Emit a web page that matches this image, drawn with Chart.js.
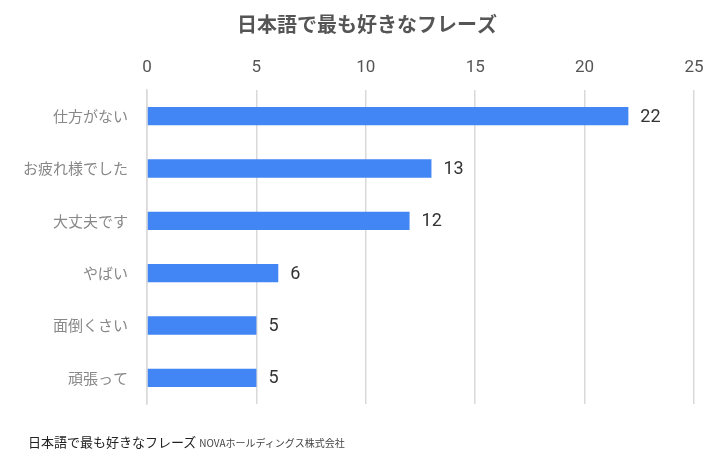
<!DOCTYPE html>
<html>
<head>
<meta charset="utf-8">
<script src="https://cdn.jsdelivr.net/npm/chart.js@4"></script>
<style>
  body { margin: 0; background: #fff; }
  #wrap { position: relative; width: 720px; height: 462px; }
  #caption {
    position: absolute; left: 28px; top: 432px;
    font-family: "Noto Sans CJK JP", sans-serif; color: #222;
    font-size: 13px; white-space: nowrap;
  }
  #caption small { font-size: 10px; color: #444; }
</style>
</head>
<body>
<div id="wrap">
  <canvas id="phraseChart" width="720" height="462"></canvas>
  <div id="caption">日本語で最も好きなフレーズ <small>NOVAホールディングス株式会社</small></div>
</div>
<script>
const chartTitle = '日本語で最も好きなフレーズ';
const phrases = ['仕方がない', 'お疲れ様でした', '大丈夫です', 'やばい', '面倒くさい', '頑張って'];
const votes = [22, 13, 12, 6, 5, 5];
const axisMax = 25;
const axisStep = 5;

// values printed next to each bar
const valueLabels = {
    id: 'valueLabels',
    afterDatasetsDraw(chart) {
        const ctx = chart.ctx;
        const meta = chart.getDatasetMeta(0);
        ctx.save();
        ctx.font = '18px Roboto, "Liberation Sans", sans-serif';
        ctx.fillStyle = '#333';
        ctx.textBaseline = 'middle';
        meta.data.forEach((bar, i) => {
            ctx.fillText(votes[i], bar.x + 12, bar.y + 1);
        });
        ctx.restore();
    }
};

// chart title drawn at the top
const topTitle = {
    id: 'topTitle',
    afterDraw(chart) {
        const ctx = chart.ctx;
        ctx.save();
        ctx.font = 'bold 20px "Noto Sans CJK JP", sans-serif';
        ctx.fillStyle = '#555';
        ctx.textAlign = 'center';
        ctx.textBaseline = 'middle';
        ctx.fillText(chartTitle, 367, 24);
        ctx.restore();
    }
};

new Chart(document.getElementById('phraseChart'), {
    type: 'bar',
    data: {
        labels: phrases,
        datasets: [{
            data: votes,
            backgroundColor: '#4285f4',
            categoryPercentage: 0.35,
            barPercentage: 1
        }]
    },
    options: {
        indexAxis: 'y',
        responsive: false,
        animation: false,
        layout: { padding: { top: 58, right: 26, bottom: 58, left: 0 } },
        plugins: {
            legend: { display: false },
            tooltip: { enabled: false }
        },
        scales: {
            x: {
                position: 'top',
                min: 0,
                max: axisMax,
                ticks: {
                    stepSize: axisStep,
                    padding: 12,
                    color: '#555',
                    font: { family: 'Roboto, "Liberation Sans", sans-serif', size: 17 }
                },
                grid: { color: '#d9d9d9', lineWidth: 1.5, drawTicks: false },
                border: { display: false },
                afterFit(scale) { scale.height = 32; }
            },
            y: {
                ticks: {
                    padding: 19,
                    color: '#888',
                    font: { family: '"Noto Sans CJK JP", sans-serif', size: 15 }
                },
                grid: { display: false, drawTicks: false },
                border: { color: '#d9d9d9', width: 1.5 },
                afterFit(scale) { scale.width = 147; }
            }
        }
    },
    plugins: [valueLabels, topTitle]
});
</script>
</body>
</html>
